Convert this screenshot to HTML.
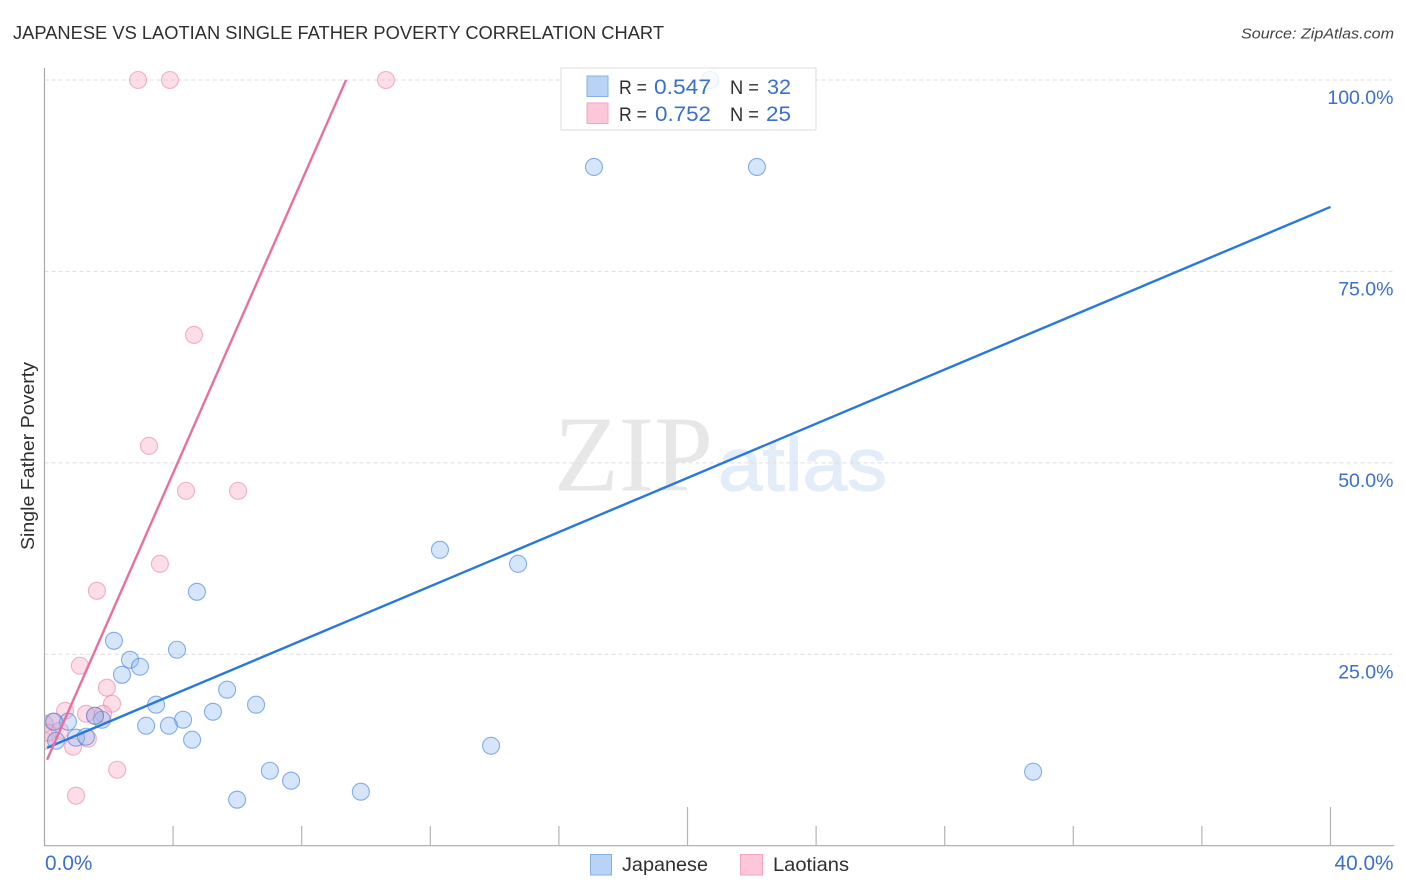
<!DOCTYPE html>
<html lang="en">
<head>
<meta charset="utf-8">
<title>Japanese vs Laotian Single Father Poverty Correlation Chart</title>
<style>
  html, body { margin: 0; padding: 0; background: #fff; }
  body { width: 1406px; height: 892px; overflow: hidden; }
  svg { display: block; font-family: "Liberation Sans", sans-serif; }
</style>
</head>
<body>
<svg id="chart" width="1406" height="892" viewBox="0 0 1406 892" xmlns="http://www.w3.org/2000/svg">
  <defs>
    <clipPath id="plot-clip"><rect x="44.5" y="60" width="1350" height="786"></rect></clipPath>
    <filter id="soft" x="-5%" y="-5%" width="110%" height="110%"><feGaussianBlur stdDeviation="0.3"></feGaussianBlur></filter>
  </defs>
  <rect x="0" y="0" width="1406" height="892" fill="#ffffff"></rect>

  <text x="13" y="39" font-size="18.5" fill="#2f2f2f" textLength="651" lengthAdjust="spacingAndGlyphs">JAPANESE VS LAOTIAN SINGLE FATHER POVERTY CORRELATION CHART</text>
  <text x="1241" y="38.5" font-size="15" font-style="italic" fill="#444444" textLength="153" lengthAdjust="spacingAndGlyphs">Source: ZipAtlas.com</text>

  <g>
    <text x="554" y="490.5" font-family="'Liberation Serif', serif" font-size="108" fill="#e7e7e7" textLength="159" lengthAdjust="spacingAndGlyphs">ZIP</text>
    <text x="718" y="490.5" font-size="75" fill="#e3ecf9" stroke="#e3ecf9" stroke-width="1.2" textLength="169" lengthAdjust="spacingAndGlyphs">atlas</text>
  </g>

  <g id="grid"></g>
  <g id="points" clip-path="url(#plot-clip)" filter="url(#soft)"></g>
  <g id="trends"></g>
  <g id="axes"></g>

  <text transform="translate(34 456) rotate(-90)" text-anchor="middle" font-size="18.5" fill="#2f2f2f" textLength="188" lengthAdjust="spacingAndGlyphs">Single Father Poverty</text>

  <g>
    <rect x="561" y="68" width="255" height="62" fill="#ffffff" fill-opacity="0.82" stroke="#dddddd" stroke-width="1"></rect>
    <rect x="587" y="76" width="21" height="20.5" fill="#b9d3f7" stroke="#85b0e6" stroke-width="1"></rect>
    <rect x="587" y="103" width="21" height="20.5" fill="#fcc8d9" stroke="#f3a5bf" stroke-width="1"></rect>
    <text x="619" y="94" font-size="19" fill="#2f2f2f" textLength="28" lengthAdjust="spacingAndGlyphs">R =</text>
    <text x="654" y="94" font-size="21" fill="#3a6fcf" textLength="57" lengthAdjust="spacingAndGlyphs">0.547</text>
    <text x="730" y="94" font-size="19" fill="#2f2f2f" textLength="29" lengthAdjust="spacingAndGlyphs">N =</text>
    <text x="767" y="94" font-size="21" fill="#3a6fcf" textLength="24" lengthAdjust="spacingAndGlyphs">32</text>
    <text x="619" y="121" font-size="19" fill="#2f2f2f" textLength="28" lengthAdjust="spacingAndGlyphs">R =</text>
    <text x="655" y="121" font-size="21" fill="#3a6fcf" textLength="56" lengthAdjust="spacingAndGlyphs">0.752</text>
    <text x="730" y="121" font-size="19" fill="#2f2f2f" textLength="29" lengthAdjust="spacingAndGlyphs">N =</text>
    <text x="766" y="121" font-size="21" fill="#3a6fcf" textLength="25" lengthAdjust="spacingAndGlyphs">25</text>
  </g>

  <g>
    <rect x="590.5" y="854.5" width="21" height="20.5" fill="#b9d3f7" stroke="#85b0e6" stroke-width="1"></rect>
    <text x="622" y="871" font-size="19.5" fill="#2f2f2f" textLength="86" lengthAdjust="spacingAndGlyphs">Japanese</text>
    <rect x="740.5" y="854.5" width="22" height="20.5" fill="#fcc8d9" stroke="#f3a5bf" stroke-width="1"></rect>
    <text x="773" y="871" font-size="19.5" fill="#2f2f2f" textLength="76" lengthAdjust="spacingAndGlyphs">Laotians</text>
  </g>
</svg>

<script>
const japaneseX = [20.70, 17.09, 22.16, 12.30, 14.73, 4.74, 2.16, 2.66, 2.97, 2.41, 4.12, 5.68, 3.47, 6.58, 5.24, 4.31, 3.16, 3.87, 1.79, 1.57, 4.59, 13.89, 7.01, 7.67, 9.84, 5.99, 30.75, 0.73, 0.30, 0.36, 0.98, 1.29];
const japaneseY = [100, 88.64, 88.64, 38.64, 36.81, 33.16, 26.76, 24.28, 23.37, 22.32, 25.59, 20.37, 18.41, 18.41, 17.49, 16.45, 15.67, 15.67, 16.45, 16.97, 13.84, 13.05, 9.79, 8.49, 7.05, 6.01, 9.66, 16.19, 16.19, 13.71, 14.10, 14.23];
const laotianX = [2.91, 3.90, 10.62, 4.65, 3.25, 4.40, 6.02, 3.59, 1.63, 1.10, 1.94, 2.10, 0.64, 1.82, 1.57, 1.29, 0.26, 1.35, 0.89, 2.26, 0.98, 0.48, 0, 0, 0.10];
const laotianY = [100, 100, 100, 66.71, 52.22, 46.34, 46.34, 36.81, 33.29, 23.50, 20.63, 18.54, 17.62, 17.23, 16.97, 17.23, 16.19, 13.97, 12.92, 9.92, 6.53, 15.01, 15.93, 13.71, 14.75];
const japaneseTrendX = [0.08, 40];
const japaneseTrendY = [12.79, 83.42];
const laotianTrendX = [0.08, 9.38];
const laotianTrendY = [11.23, 100];
const yTickValues = [25, 50, 75, 100];
const yTickLabels = ["25.0%", "50.0%", "75.0%", "100.0%"];
const xTickValues = [0, 4, 8, 12, 16, 20, 24, 28, 32, 36, 40];
const xMajorTicks = [20, 40];
const xEndLabels = ["0.0%", "40.0%"];

const SVG_NS = "http://www.w3.org/2000/svg";
const xScale = function (v) { return 44.5 + v * 32.15; };
const yScale = function (v) { return 845.7 - v * 7.657; };
const gridLayer = document.getElementById("grid");
const pointLayer = document.getElementById("points");
const trendLayer = document.getElementById("trends");
const axisLayer = document.getElementById("axes");

function make(tag, attrs, parent) {
  const el = document.createElementNS(SVG_NS, tag);
  Object.keys(attrs).forEach(function (k) { el.setAttribute(k, attrs[k]); });
  parent.appendChild(el);
  return el;
}

yTickValues.forEach(function (v, i) {
  const y = yScale(v);
  const line = make("line", { x1: 44.5, x2: 1394, y1: y, y2: y, stroke: "#dedede", "stroke-width": 1, "stroke-dasharray": "4 3" }, gridLayer);
  
  
  const label = make("text", { x: 1393.5, y: y + 24, "text-anchor": "end", "font-size": 19.5, fill: "#3a6fcf" }, axisLayer);
  
  
  label.textContent = yTickLabels[i];
});

function drawPoints(xs, ys, fill, stroke, name) {
  xs.forEach(function (xv, i) {
    const dot = make("circle", { cx: xScale(xv), cy: yScale(ys[i]), r: 8.5, fill: fill, stroke: stroke, "stroke-width": 1.1 }, pointLayer);
    
    
  });
}
drawPoints(laotianX, laotianY, "rgba(246,160,190,0.36)", "rgba(232,110,155,0.50)", "laotian-point");
drawPoints(japaneseX, japaneseY, "rgba(140,185,240,0.36)", "rgba(45,115,210,0.55)", "japanese-point");

const blueLine = make("line", { x1: xScale(japaneseTrendX[0]), y1: yScale(japaneseTrendY[0]), x2: xScale(japaneseTrendX[1]), y2: yScale(japaneseTrendY[1]), stroke: "#2a78dc", "stroke-width": 2.4 }, trendLayer);


const pinkLine = make("line", { x1: xScale(laotianTrendX[0]), y1: yScale(laotianTrendY[0]), x2: xScale(laotianTrendX[1]), y2: yScale(laotianTrendY[1]), stroke: "#e8709f", "stroke-width": 2.4 }, trendLayer);



const yAxis = make("line", { x1: 44.5, x2: 44.5, y1: 68, y2: 846, stroke: "#aaaaaa", "stroke-width": 1.2 }, axisLayer);


const xAxis = make("line", { x1: 44, x2: 1394, y1: 845.7, y2: 845.7, stroke: "#aaaaaa", "stroke-width": 1.2 }, axisLayer);



xTickValues.slice(1).forEach(function (v) {
  const x = xScale(v);
  const top = xMajorTicks.indexOf(v) >= 0 ? 807 : 826;
  const tick = make("line", { x1: x, x2: x, y1: top, y2: 846, stroke: "#b4b4b4", "stroke-width": 1.2 }, axisLayer);
  
  
});

const xStartLabel = make("text", { x: 45, y: 870, "font-size": 20.8, fill: "#3a6fcf" }, axisLayer);


xStartLabel.textContent = xEndLabels[0];
const xEndLabel = make("text", { x: 1393.5, y: 870, "text-anchor": "end", "font-size": 20.8, fill: "#3a6fcf" }, axisLayer);


xEndLabel.textContent = xEndLabels[1];
</script>
</body>
</html>
